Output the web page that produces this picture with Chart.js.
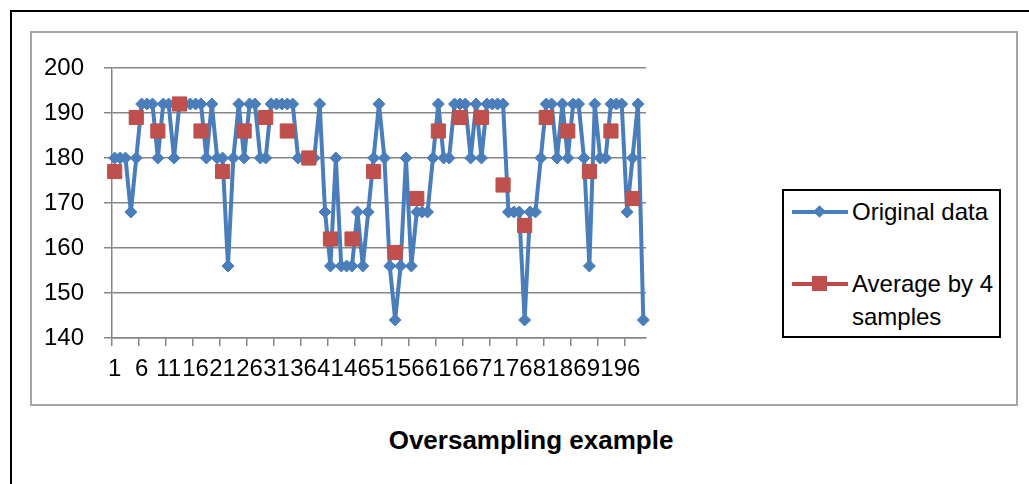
<!DOCTYPE html>
<html>
<head>
<meta charset="utf-8">
<title>Oversampling example</title>
<script src="https://cdn.jsdelivr.net/npm/chart.js@4.4.0/dist/chart.umd.min.js"></script>
<style>
  body { margin: 0; background: #fff; }
  #wrap { position: relative; width: 1029px; height: 484px; overflow: hidden; font-family: "Liberation Sans", Arial, sans-serif; color: #000; }
  #outer { position: absolute; left: 10px; top: 10px; width: 1100px; height: 600px; border-left: 2px solid #000; border-top: 2px solid #000; }
  #plotbox { position: absolute; left: 30px; top: 31px; width: 988px; height: 375px; box-sizing: border-box; border: 2px solid #a6a6a6; }
  #legend { position: absolute; left: 782px; top: 189px; width: 219px; height: 149px; box-sizing: border-box; border: 2px solid #000; background: #fff; }
  .lg-line { position: absolute; left: 792px; width: 56px; height: 4px; }
  .lg-text { position: absolute; left: 852px; font-size: 24px; line-height: 33px; white-space: nowrap; }
  .diamond { position: absolute; width: 9px; height: 9px; background: #4a7ebb; transform: rotate(45deg); }
  .square { position: absolute; width: 15px; height: 15px; background: #c0504d; }
  #title { position: absolute; left: 31px; width: 1000px; top: 424px; text-align: center; font-size: 26px; font-weight: bold; line-height: 32px; }
  canvas { position: absolute; left: 0; top: 0; }
</style>
</head>
<body>
<div id="wrap">
  <div id="outer"></div>
  <div id="plotbox"></div>
  <div id="legend"></div>
  <div class="lg-line" style="top:210px; background:#4a7ebb;"></div>
  <div class="diamond" style="left:815px; top:207px;"></div>
  <div class="lg-text" style="top:195px;">Original data</div>
  <div class="lg-line" style="top:282px; background:#be4b48;"></div>
  <div class="square" style="left:812px; top:276px;"></div>
  <div class="lg-text" style="top:267px;">Average by 4<br>samples</div>
  <div id="title">Oversampling example</div>
  <canvas id="chart" width="1029" height="484"></canvas>
</div>
<script>
// muestras (1..99) y etiquetas visibles del eje X
const sampleCount = 99;
const categories = Array.from({ length: sampleCount }, (_, i) => String(i + 1));
const shownLabels = ['1', '6', '11', '16', '21', '26', '31', '36', '41', '46',
  '51', '56', '61', '66', '71', '76', '81', '86', '91', '96'];

// datos originales
const originalData = [
  180, 180, 180, 168, 180, 192, 192, 192, 180, 192,
  192, 180, 192, 192, 192, 192, 192, 180, 192, 180,
  180, 156, 180, 192, 180, 192, 192, 180, 180, 192,
  192, 192, 192, 192, 180, 180, 180, 180, 192, 168,
  156, 180, 156, 156, 156, 168, 156, 168, 180, 192,
  180, 156, 144, 156, 180, 156, 168, 168, 168, 180,
  192, 180, 180, 192, 192, 192, 180, 192, 180, 192,
  192, 192, 192, 168, 168, 168, 144, 168, 168, 180,
  192, 192, 180, 192, 180, 192, 192, 180, 156, 192,
  180, 180, 192, 192, 192, 168, 180, 192, 144
];

// promedio cada 4 muestras
const averageLabels = ['1', '5', '9', '13', '17', '21', '25', '29', '33', '37',
  '41', '45', '49', '53', '57', '61', '65', '69', '73', '77',
  '81', '85', '89', '93', '97'];
const averageValues = [177, 189, 186, 192, 186, 177, 186, 189, 186, 180,
  162, 162, 177, 159, 171, 186, 189, 189, 174, 165,
  189, 186, 177, 186, 171];

const yTicks = [140, 150, 160, 170, 180, 190, 200];

const axisColor = '#868686';
const labelFont = { family: '"Liberation Sans", Arial, sans-serif', size: 24 };

const chart = new Chart(document.getElementById('chart'), {
  type: 'line',
  data: {
    labels: categories,
    datasets: [
      {
        label: 'Average by 4 samples',
        data: averageLabels.map((x, i) => ({ x: x, y: averageValues[i] })),
        showLine: false,
        borderColor: '#be4b48',
        backgroundColor: '#c0504d',
        pointStyle: 'rect',
        pointRadius: 10,
        pointBorderWidth: 1,
        pointBorderColor: '#b9504d',
        order: 0
      },
      {
        label: 'Original data',
        data: originalData,
        borderColor: '#4a7ebb',
        backgroundColor: '#4a7ebb',
        borderWidth: 4,
        tension: 0,
        pointStyle: 'rectRot',
        pointRadius: 6,
        pointBorderWidth: 1,
        pointBorderColor: '#4a7ebb',
        order: 1
      }
    ]
  },
  options: {
    responsive: false,
    animation: false,
    layout: { padding: { left: 22, right: 383, top: 68, bottom: 86 } },
    plugins: {
      legend: { display: false },
      title: { display: false },
      tooltip: { enabled: false }
    },
    scales: {
      x: {
        type: 'category',
        offset: true,
        afterFit: (scale) => { scale.height = 60; },
        grid: {
          offset: true,
          drawOnChartArea: false,
          drawTicks: true,
          tickLength: 8,
          lineWidth: 1.5,
          color: (ctx) => (ctx.index !== undefined && ctx.index % 5 === 0) ? axisColor : 'rgba(0,0,0,0)'
        },
        border: { color: axisColor, width: 1.5 },
        ticks: {
          autoSkip: false,
          maxRotation: 0,
          minRotation: 0,
          padding: 9,
          color: '#000',
          font: labelFont,
          callback: function (value) {
            const lab = this.getLabelForValue(value);
            return shownLabels.includes(lab) ? lab : '';
          }
        }
      },
      y: {
        min: yTicks[0],
        max: yTicks[yTicks.length - 1],
        afterFit: (scale) => { scale.width = 90; },
        afterBuildTicks: (scale) => { scale.ticks = yTicks.map(v => ({ value: v })); },
        grid: { color: axisColor, lineWidth: 1.5, tickLength: 8 },
        border: { color: axisColor, width: 1.5 },
        ticks: { padding: 20, color: '#000', font: labelFont }
      }
    }
  }
});
</script>
</body>
</html>
